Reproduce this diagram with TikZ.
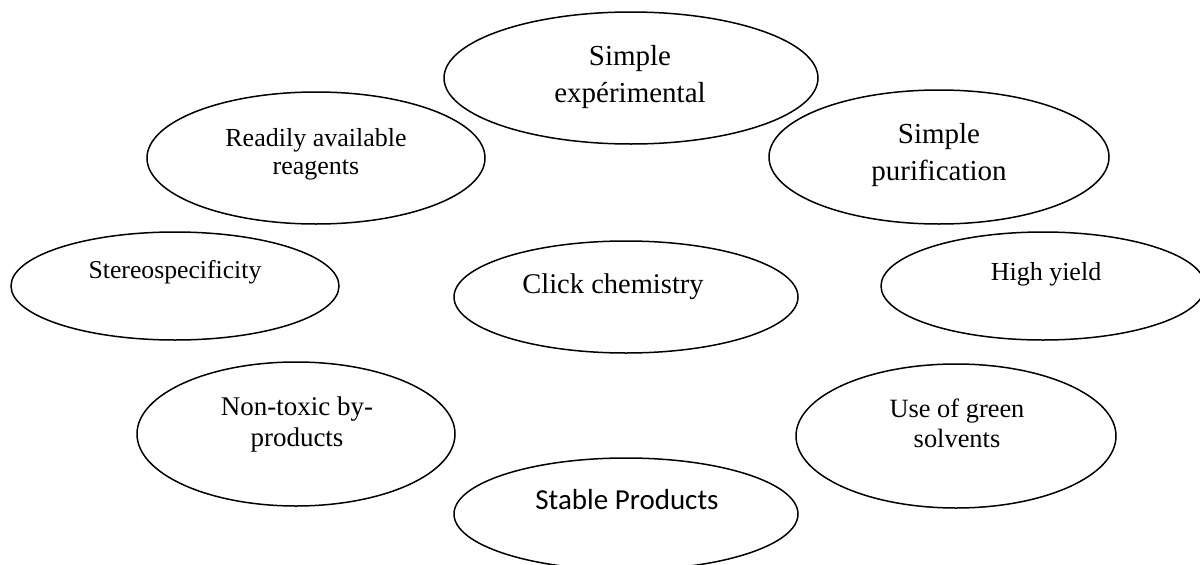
\documentclass[tikz,border=0pt]{standalone}
\usepackage{fontspec}
\setmainfont{Liberation Serif}
\newfontfamily\calibrifont{Carlito}
\usetikzlibrary{shapes.geometric}

\begin{document}
\begin{tikzpicture}[
  x=1pt, y=-1pt,
  bubble/.style={ellipse, draw=black, line width=1.5pt, inner sep=0pt},
  lbl/.style={align=center, anchor=base, inner sep=0pt}
]
\useasboundingbox (0,0) rectangle (1200,565);

% Top ring
\node[bubble, minimum width=374pt, minimum height=132pt] (simpexp) at (631,78) {};
\node[bubble, minimum width=338pt, minimum height=132pt] (readily) at (316,158) {};
\node[bubble, minimum width=340pt, minimum height=134pt] (simppur) at (939,157) {};

% Middle row
\node[bubble, minimum width=328pt, minimum height=108pt] (stereo) at (175,286) {};
\node[bubble, minimum width=344pt, minimum height=112pt] (click) at (626,297) {};
\node[bubble, minimum width=324pt, minimum height=108pt] (highyld) at (1043,286) {};

% Bottom ring
\node[bubble, minimum width=318pt, minimum height=144pt] (nontox) at (296,434) {};
\node[bubble, minimum width=320pt, minimum height=144pt] (green) at (956,436) {};
\node[bubble, minimum width=344pt, minimum height=112pt] (stable) at (626,514) {};

% Labels
\node[lbl, font=\fontsize{29}{37}\selectfont] (simpexpT) at (630,102) {Simple\\expérimental};
\node[lbl, font=\fontsize{26}{28}\selectfont] (readilyT) at (316,174) {Readily available\\reagents};
\node[lbl, font=\fontsize{29}{37}\selectfont] (simppurT) at (939,180) {Simple\\purification};
\node[lbl, font=\fontsize{25.7}{30}\selectfont] (stereoT) at (175,278) {Stereospecificity};
\node[lbl, font=\fontsize{28.5}{34}\selectfont] (clickT) at (613,293) {Click chemistry};
\node[lbl, font=\fontsize{26}{30}\selectfont] (highyldT) at (1046,280) {High yield};
\node[lbl, font=\fontsize{27}{31}\selectfont] (nontoxT) at (297,446) {Non-toxic by-\\products};
\node[lbl, font=\fontsize{26.4}{30}\selectfont] (greenT) at (957,447) {Use of green\\solvents};
\node[lbl, font=\calibrifont\fontsize{29}{34}\selectfont] (stableT) at (627,509) {Stable Products};

\end{tikzpicture}
\end{document}
